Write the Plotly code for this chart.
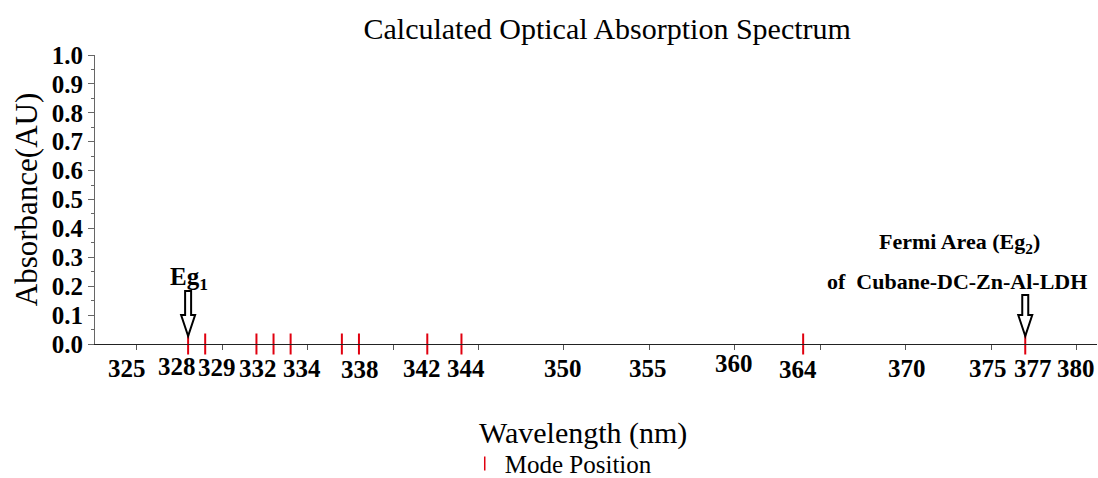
import plotly.graph_objects as go

# ---- data ----
mode_positions = [328, 329, 332, 333, 334, 337, 338, 342, 344, 364, 377]
mode_absorbance = [0, 0, 0, 0, 0, 0, 0, 0, 0, 0, 0]
x_tick_labels = [325, 328, 329, 332, 334, 338, 342, 344, 350, 355, 360, 364, 370, 375, 377, 380]
x_minor_ticks = [325, 330, 335, 340, 345, 350, 355, 360, 365, 370, 375, 380]
y_ticks = [0.0, 0.1, 0.2, 0.3, 0.4, 0.5, 0.6, 0.7, 0.8, 0.9, 1.0]
eg1_position = 328
eg2_position = 377

# style: horizontal / vertical pixel nudges of the x tick labels (as laid out in the reference)
label_nudge_x = [-10, -11, 12, 2, 11, 1, -5, 5, -1, -1, -1, -5, 1, -3, 8, -1]
label_nudge_y = [0, 2, 1, 0, 0, -1, 0, 0, 0, 0, 5, -1, 0, 0, 0, 0]

serif = "Liberation Serif"
red = "#e0000f"

fig = go.Figure()
fig.add_trace(go.Scatter(
    x=mode_positions, y=mode_absorbance, mode="markers", name="Mode Position",
    marker=dict(symbol="line-ns", size=15, line=dict(color=red, width=2), color=red),
    cliponaxis=False, showlegend=False,
))
# legend entry (smaller glyph as in the reference)
fig.add_trace(go.Scatter(
    x=[None], y=[None], mode="markers", name="Mode Position",
    marker=dict(symbol="line-ns", size=10, line=dict(color=red, width=1.5), color=red),
    showlegend=True,
))

def hollow_arrow(xpos, top):
    # pixel path relative to (xpos, 0); y positive upwards
    path = f"M 0,8 L -7,29 L -3,29 L -3,{top} L 3,{top} L 3,29 L 7,29 Z"
    fig.add_shape(type="path", xref="x", yref="y", xsizemode="pixel", ysizemode="pixel",
                  xanchor=xpos, yanchor=0, path=path,
                  line=dict(color="black", width=2), fillcolor="white", layer="above")

hollow_arrow(eg1_position, 53)
hollow_arrow(eg2_position, 49)

# x tick labels
for v, dx, dy in zip(x_tick_labels, label_nudge_x, label_nudge_y):
    fig.add_annotation(x=v, y=0, xref="x", yref="y", xshift=dx, yshift=-24 + dy,
                       yanchor="middle", showarrow=False, text=f"<b>{v}</b>",
                       font=dict(family=serif, size=25, color="black"))

fig.add_annotation(x=eg1_position, y=0, xref="x", yref="y", xshift=1, yshift=66, showarrow=False,
                   text="<b>Eg<sub>1</sub></b>", font=dict(family=serif, size=25, color="black"))
fig.add_annotation(x=eg2_position, y=0, xref="x", yref="y", xshift=-66, yshift=101, showarrow=False,
                   text="<b>Fermi Area (Eg<sub>2</sub>)</b>",
                   font=dict(family=serif, size=22, color="black"))
fig.add_annotation(x=eg2_position, y=0, xref="x", yref="y", xshift=-68, yshift=63, showarrow=False,
                   text="<b>of  Cubane-DC-Zn-Al-LDH</b>",
                   font=dict(family=serif, size=22, color="black"))

# x axis title
fig.add_annotation(x=0.4875, y=-0.308, xref="paper", yref="paper", showarrow=False,
                   yanchor="middle", text="Wavelength (nm)",
                   font=dict(family=serif, size=30, color="black"))

fig.update_layout(
    width=1098, height=478,
    margin=dict(l=95, r=1, t=55, b=134),
    paper_bgcolor="white", plot_bgcolor="white",
    title=dict(text="Calculated Optical Absorption Spectrum", x=0.553, xanchor="center",
               y=0.94, yanchor="middle",
               font=dict(family=serif, size=30, color="black")),
    showlegend=True,
    legend=dict(x=0.369, y=0.03, xref="paper", yref="container", xanchor="left", yanchor="middle",
                orientation="h",
                font=dict(family=serif, size=25, color="black"), bgcolor="rgba(0,0,0,0)"),
    xaxis=dict(range=[322.55, 381.2], showgrid=False, zeroline=False, automargin=False,
               showline=True, linecolor="#222222", linewidth=1,
               tickmode="array", tickvals=x_minor_ticks, showticklabels=False,
               ticks="outside", ticklen=5, tickcolor="#555555", tickwidth=1),
    yaxis=dict(range=[0, 1], showgrid=False, zeroline=False, automargin=False,
               showline=True, linecolor="#666666", linewidth=1,
               tickmode="array", tickvals=y_ticks, ticktext=[f"<b>{v:.1f}</b>" for v in y_ticks],
               ticks="outside", ticklen=6, tickcolor="#666666",
               tickfont=dict(family=serif, size=25, color="black"),
               minor=dict(dtick=0.05, ticks="outside", ticklen=3, tickcolor="#666666"),
               title=dict(text="Absorbance(AU)", standoff=4,
                          font=dict(family=serif, size=31, color="black"))),
)

fig.write_html("out.html", config={"displayModeBar": False},
               post_script="document.body.style.margin='0px';")
